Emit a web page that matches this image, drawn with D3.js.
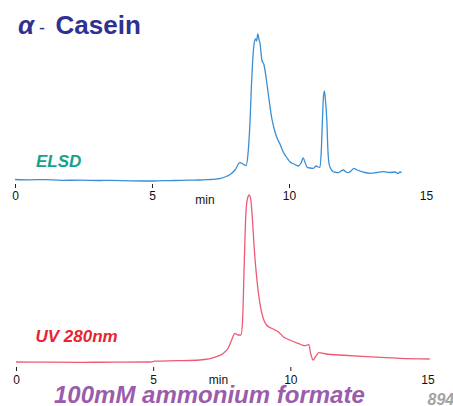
<!DOCTYPE html>
<html>
<head>
<meta charset="utf-8">
<script src="https://cdn.jsdelivr.net/npm/d3@7"></script>
<style>
  html, body { margin: 0; padding: 0; background: #fff; }
  svg { display: block; }
</style>
</head>
<body>
<svg id="chart" width="453" height="406"></svg>
<script>
// ---- data ----
const tickValues = [0, 5, 10, 15];
const tickLabels = ["0", "5", "10", "15"];

// ELSD trace: time (min) and detector signal (arbitrary units)
const elsdTime = [0, 0.5, 1.09, 1.7, 2.37, 3.0, 3.47, 4.2, 4.93, 5.4, 5.84, 6.3, 6.75, 7.05, 7.30, 7.50, 7.66, 7.85, 8.03, 8.21, 8.32, 8.43, 8.50, 8.58, 8.63, 8.67, 8.73, 8.78, 8.82, 8.86, 8.91, 8.94, 9.01, 9.09, 9.16, 9.24, 9.37, 9.45, 9.55, 9.67, 9.79, 9.93, 10.04, 10.18, 10.34, 10.44, 10.52, 10.58, 10.67, 10.77, 10.89, 10.99, 11.06, 11.13, 11.18, 11.22, 11.25, 11.29, 11.33, 11.38, 11.42, 11.46, 11.53, 11.62, 11.72, 11.80, 11.90, 11.98, 12.08, 12.16, 12.26, 12.37, 12.48, 12.59, 12.77, 12.96, 13.21, 13.44, 13.69, 13.87, 13.98, 14.05, 14.11];
const elsdSignal = [0.5, 0.2, 0.4, -0.3, -0.2, -0.5, -0.4, -0.8, -1.0, -0.6, -0.5, -0.2, 0, 0.4, 0.8, 1.6, 3.0, 5.5, 10, 17.3, 16, 14.3, 25, 60, 95, 117, 137, 141, 139, 146, 140, 137, 120, 115, 103, 87, 62, 52, 43, 36, 28, 22, 18, 16, 14, 17, 22, 18, 12.7, 12, 11.7, 14, 13, 12.7, 30, 60, 80, 89, 80, 60, 30, 16.7, 11, 8.3, 7.5, 7.3, 9, 10, 8, 7.3, 9, 11.7, 10, 9, 7.5, 6.7, 7.5, 8.3, 7.5, 8, 6.5, 8, 7.3];

// UV 280 nm trace
const uvTime = [0, 1.2, 2.33, 3.6, 4.88, 4.99, 5.06, 5.9, 6.70, 7.31, 7.55, 7.73, 7.86, 7.98, 8.10, 8.20, 8.26, 8.32, 8.38, 8.44, 8.50, 8.56, 8.62, 8.68, 8.77, 8.89, 9.01, 9.13, 9.32, 9.56, 9.74, 9.98, 10.28, 10.53, 10.61, 10.67, 10.74, 10.83, 10.92, 11.04, 11.32, 11.80, 12.78, 13.99, 15.08];
const uvSignal = [0, -0.2, -0.3, -0.2, 0, 0.3, 0.8, 1.3, 2, 5.3, 8.5, 13.7, 22, 28.7, 27, 27, 42, 98.7, 148.7, 163.7, 167, 162, 142, 115.3, 85.3, 58.7, 43.7, 37, 33.7, 30.3, 25.3, 22, 18.7, 16.3, 17, 17.7, 8.7, 2, 5.3, 9.3, 8, 7, 5.3, 3.7, 3];

const elsd = elsdTime.map((t, i) => ({ t, v: elsdSignal[i] }));
const uv = uvTime.map((t, i) => ({ t, v: uvSignal[i] }));

const svg = d3.select("#chart");
const FONT = "'Liberation Sans', Arial, Helvetica, sans-serif";

// ---- scales ----
const xTop = d3.scaleLinear().domain([0, 15]).range([15, 426]);
const yTop = d3.scaleLinear().domain([0, 146]).range([180, 34]);
const xBot = d3.scaleLinear().domain([0, 15]).range([16, 427.5]);
const yBot = d3.scaleLinear().domain([0, 167]).range([362, 195]);

// ---- axes ----
function drawAxis(x, yPos, pad) {
  const axis = d3.axisBottom(x)
    .tickValues(tickValues)
    .tickFormat((d, i) => tickLabels[i])
    .tickSize(4)
    .tickPadding(pad);
  const g = svg.append("g").attr("transform", `translate(0,${yPos})`).call(axis);
  g.select(".domain").remove();
  g.selectAll(".tick line")
    .attr("stroke", "#222")
    .attr("stroke-width", 1)
    .attr("opacity", d => d === 15 ? 0 : 1);
  g.selectAll(".tick text")
    .attr("font-family", FONT)
    .attr("font-size", 12)
    .attr("fill", "#111");
  return g;
}
drawAxis(xTop, 184, 3.5);
drawAxis(xBot, 367, 4.2);

svg.append("text").attr("x", 205).attr("y", 204)
  .attr("text-anchor", "middle").attr("font-family", FONT)
  .attr("font-size", 12).attr("fill", "#111").text("min");
svg.append("text").attr("x", 218.5).attr("y", 383.5)
  .attr("text-anchor", "middle").attr("font-family", FONT)
  .attr("font-size", 12).attr("fill", "#111").text("min");

// ---- lines ----
const lineTop = d3.line().x(d => xTop(d.t)).y(d => yTop(d.v)).curve(d3.curveMonotoneX);
const lineBot = d3.line().x(d => xBot(d.t)).y(d => yBot(d.v)).curve(d3.curveMonotoneX);

svg.append("path").datum(elsd).attr("d", lineTop)
  .attr("fill", "none").attr("stroke", "#3b8fd4").attr("stroke-width", 1.3);
svg.append("path").datum(uv).attr("d", lineBot)
  .attr("fill", "none").attr("stroke", "#ee5a74").attr("stroke-width", 1.3);

// ---- texts ----
svg.append("text").attr("x", 18).attr("y", 33.5)
  .attr("font-family", FONT).attr("font-size", 26).attr("font-style", "italic")
  .attr("font-weight", "bold").attr("fill", "#2e3192").text("α");
svg.append("text").attr("x", 39).attr("y", 33.5)
  .attr("font-family", FONT).attr("font-size", 18)
  .attr("fill", "#2e3192").text("-");
svg.append("text").attr("x", 55.5).attr("y", 34.3)
  .attr("font-family", FONT).attr("font-size", 26)
  .attr("font-weight", "bold").attr("fill", "#2e3192").text("Casein");

svg.append("text").attr("x", 36).attr("y", 167.3)
  .attr("font-family", FONT).attr("font-size", 17).attr("font-style", "italic")
  .attr("font-weight", "bold").attr("fill", "#13a38c").text("ELSD");

svg.append("text").attr("x", 35.5).attr("y", 342.3)
  .attr("font-family", FONT).attr("font-size", 17).attr("font-style", "italic")
  .attr("font-weight", "bold").attr("fill", "#ea2330").text("UV 280nm");

svg.append("text").attr("x", 54).attr("y", 403.3)
  .attr("font-family", FONT).attr("font-size", 24).attr("font-style", "italic")
  .attr("font-weight", "bold").attr("fill", "#9a5cab").text("100mM ammonium formate");

svg.append("text").attr("x", 427.5).attr("y", 405)
  .attr("font-family", FONT).attr("font-size", 16).attr("font-style", "italic")
  .attr("font-weight", "bold").attr("fill", "#a3a3a3").text("894");
</script>
</body>
</html>
